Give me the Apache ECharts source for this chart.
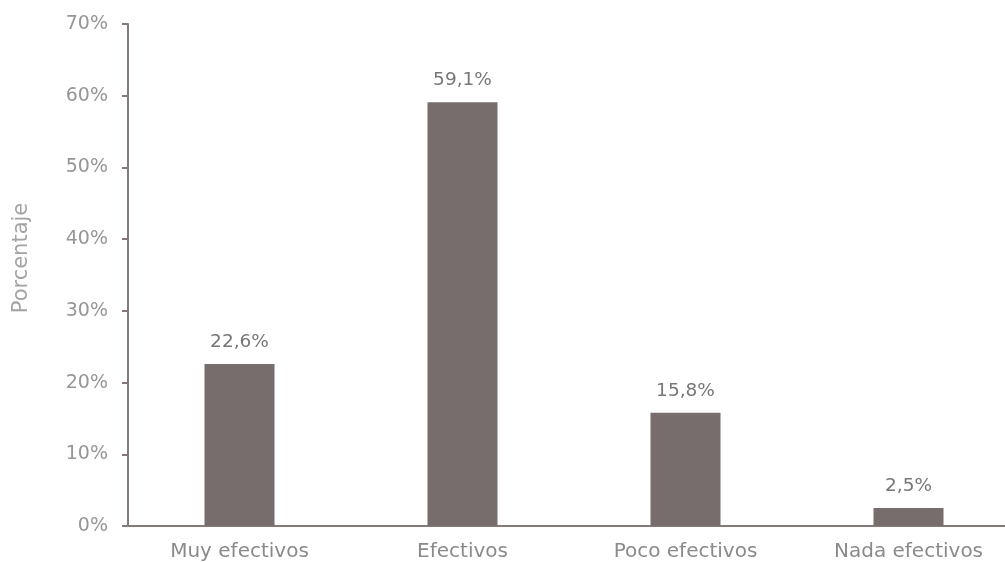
<!DOCTYPE html>
<html><head><meta charset="utf-8">
<script src="https://cdn.jsdelivr.net/npm/echarts@6/dist/echarts.min.js"></script>
<style>html,body{margin:0;padding:0;background:#fff}#c{width:1005px;height:562px}</style>
</head><body><div id="c"></div>
<script>
const categories = ['Muy efectivos', 'Efectivos', 'Poco efectivos', 'Nada efectivos'];
const values = [22.6, 59.1, 15.8, 2.5];
const valueLabels = ['22,6%', '59,1%', '15,8%', '2,5%'];
const yTicks = [0, 10, 20, 30, 40, 50, 60, 70];

const chart = echarts.init(document.getElementById('c'));
const font = '"DejaVu Sans", sans-serif';
chart.setOption({
  animation: false,
  grid: { left: 128, width: 892, top: 24, height: 502, outerBoundsMode: 'none', containLabel: false },
  xAxis: {
    type: 'category', data: categories,
    axisLine: { lineStyle: { color: '#857a78', width: 2 } },
    axisTick: { show: false },
    axisLabel: { color: '#8a8a8a', fontSize: 20, fontFamily: font, margin: 16 }
  },
  yAxis: {
    type: 'value', min: 0, max: 70, interval: 10,
    name: 'Porcentaje', nameLocation: 'middle', nameGap: 96,
    nameTextStyle: { color: '#a3a3a3', fontSize: 21, fontFamily: font, padding: [0, 0, 0, 34] },
    axisLine: { show: true, lineStyle: { color: '#857a78', width: 2 } },
    axisTick: { show: true, length: 6, lineStyle: { color: '#857a78', width: 2 } },
    splitLine: { show: false },
    axisLabel: { color: '#969696', fontSize: 19, fontFamily: font, margin: 20,
      formatter: v => yTicks.includes(v) ? v + '%' : '' }
  },
  series: [{
    type: 'bar', data: values, barWidth: 70,
    itemStyle: { color: '#766d6c' },
    label: { show: true, position: 'top', distance: 12, color: '#777777', fontSize: 18.5, fontFamily: font,
      formatter: p => valueLabels[p.dataIndex] }
  }]
});
</script></body></html>
